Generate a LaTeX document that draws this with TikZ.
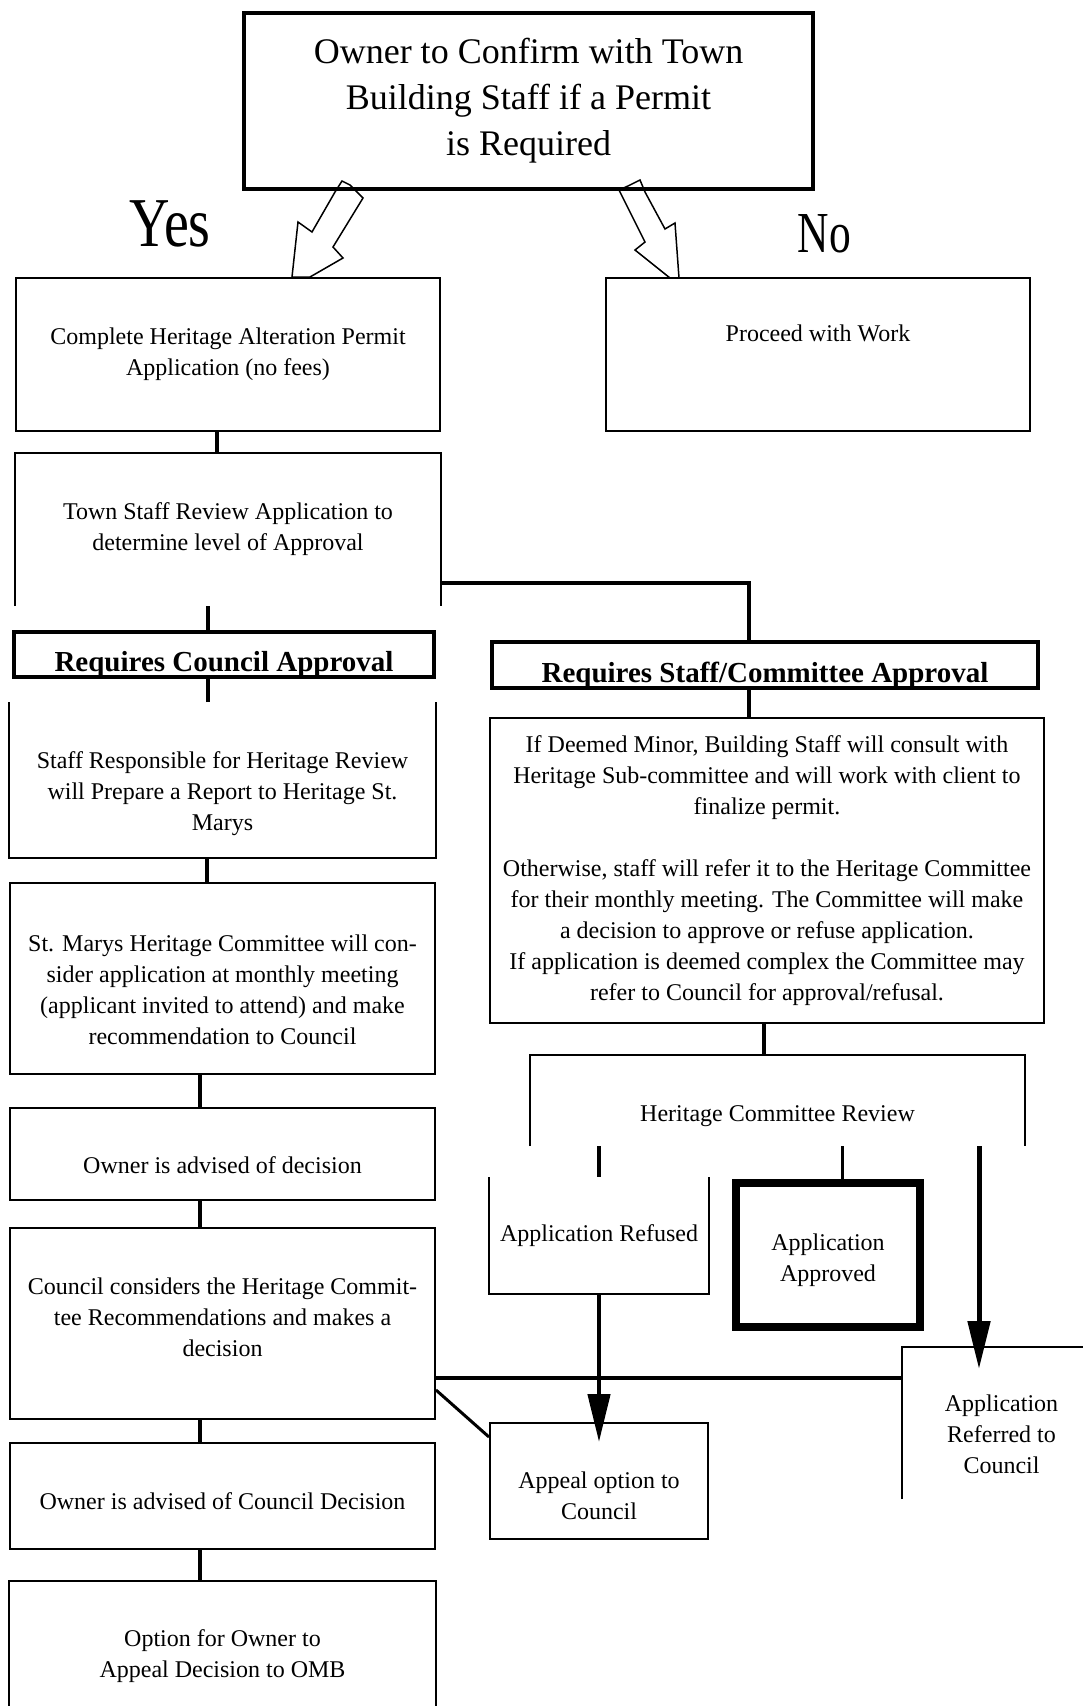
\documentclass[tikz,border=0pt]{standalone}
\usepackage{fontspec}
\setmainfont{Liberation Serif}
\usetikzlibrary{arrows.meta}

\tikzset{
  box/.style={draw, line width=2pt, inner sep=0pt, align=center,
    font=\fontsize{24}{31}\selectfont},
  txt/.style={align=center, font=\fontsize{24}{31}\selectfont},
  openbox/.style={box, draw=none},
  header/.style={draw, line width=4pt, inner sep=0pt, text height=38pt, text depth=4pt,
    font=\bfseries\fontsize{29}{32}\selectfont},
  link/.style={line width=4pt},
  bigarrow/.style={line width=4.5pt, -{Triangle[length=48pt,width=22pt]}},
  bolt/.style={line width=1.5pt, line join=miter},
}

\begin{document}
\begin{tikzpicture}[x=1pt, y=-1pt]
  \useasboundingbox (0,0) rectangle (1083,1706);
  \fill[white] (0,0) rectangle (1083,1706);

  % question at the top
  \node[box, line width=4pt, minimum width=569pt, minimum height=176pt,
        font=\fontsize{36}{46}\selectfont] (owner) at (528.5,101)
    {Owner to Confirm with Town\\Building Staff if a Permit\\is Required};

  % yes / no arrows
  \draw[bolt] (342,181) -- (350,185) -- (363,198) -- (333,247) -- (343,258)
    -- (310,277) -- (292,277) -- (298,222) -- (312,232) -- (335,192) -- cycle;
  \draw[bolt] (640,180) -- (645,192) -- (665,229) -- (675,223) -- (679,278)
    -- (670,278) -- (635,250) -- (645,242) -- (619,190) -- (628,186) -- cycle;
  \node (yes) at (170,223.5) {\scalebox{0.8}[1]{\fontsize{70}{70}\selectfont Yes}};
  \node (no) at (824.5,233.5) {\scalebox{0.75}[1]{\fontsize{58}{58}\selectfont No}};

  % left column
  \node[box, minimum width=424pt, minimum height=153pt] (complete) at (228,354.5)
    {Complete Heritage Alteration Permit\\Application (no fees)};
  \node[box, minimum width=424pt, minimum height=153pt, text depth=43pt] (proceed) at (818,354.5)
    {Proceed with Work};
  \node[openbox, minimum width=424pt, minimum height=151pt] (town) at (228,529.5)
    {Town Staff Review Application to\\determine level of Approval};
  \draw[line width=2pt] (town.south west) -- (town.north west) -- (town.north east) -- (town.south east);
  \node[header, minimum width=420pt, minimum height=45pt] (needcouncil) at (224,654.5)
    {Requires Council Approval};
  \node[openbox, minimum width=425pt, minimum height=154pt,
        label={[txt, yshift=-14pt]center:{Staff Responsible for Heritage Review\\will Prepare a Report to Heritage St.\\Marys}}]
    (respons) at (222.5,780) {};
  \draw[line width=2pt] (respons.north west) -- (respons.south west) -- (respons.south east) -- (respons.north east);
  \node[box, minimum width=425pt, minimum height=191pt,
        label={[txt, yshift=-11pt]center:{St. Marys Heritage Committee will con-\\sider application at monthly meeting\\(applicant invited to attend) and make\\recommendation to Council}}]
    (stmarys) at (222.5,978.5) {};
  \node[box, minimum width=425pt, minimum height=92pt,
        label={[txt, yshift=-11pt]center:Owner is advised of decision}]
    (advised) at (222.5,1154) {};
  \node[box, minimum width=425pt, minimum height=191pt,
        label={[txt, yshift=6pt]center:{Council considers the Heritage Commit-\\tee Recommendations and makes a\\decision}}]
    (considers) at (222.5,1323.5) {};
  \node[box, minimum width=425pt, minimum height=106pt,
        label={[txt, yshift=-5pt]center:Owner is advised of Council Decision}]
    (advisedc) at (222.5,1496) {};
  \node[openbox, minimum width=425pt, minimum height=148pt] (omb) at (222.5,1656)
    {Option for Owner to\\Appeal Decision to OMB};
  \draw[line width=2pt] (omb.south west) -- (omb.north west) -- (omb.north east) -- (omb.south east);

  % right column
  \node[header, minimum width=546pt, minimum height=46pt] (needstaff) at (765,665)
    {Requires Staff/Committee Approval};
  \node[box, minimum width=554pt, minimum height=305pt] (minor) at (767,870.5)
    {If Deemed Minor, Building Staff will consult with\\Heritage Sub-committee and will work with client to\\finalize permit.\\[31pt]Otherwise, staff will refer it to the Heritage Committee\\for their monthly meeting.  The Committee will make\\a decision to approve or refuse application.\\If application is deemed complex the Committee may\\refer to Council for approval/refusal.};
  \node[openbox, minimum width=493pt, minimum height=89pt,
        label={[txt, yshift=-16pt]center:Heritage Committee Review}]
    (review) at (777.5,1100.5) {};
  \draw[line width=2pt] (review.south west) -- (review.north west) -- (review.north east) -- (review.south east);
  \node[openbox, minimum width=218pt, minimum height=115pt] (refused) at (599,1235.5)
    {Application Refused};
  \draw[line width=2pt] (refused.north west) -- (refused.south west) -- (refused.south east) -- (refused.north east);
  \node[box, line width=8pt, minimum width=184pt, minimum height=144pt,
        label={[txt, yshift=-5pt]center:{Application\\Approved}}]
    (approved) at (828,1255) {};
  \node[openbox, minimum width=197pt, minimum height=150pt,
        label={[txt, yshift=-11pt]center:{Application\\Referred to\\Council}}]
    (referred) at (1001.5,1423) {};
  \draw[line width=2pt] (referred.south west) -- (referred.north west) -- (referred.north east);
  \node[box, minimum width=218pt, minimum height=116pt,
        label={[txt, yshift=-15pt]center:{Appeal option to\\Council}}]
    (appeal) at (599,1481) {};

  % links down the left column
  \draw[link] ([xshift=-11pt]complete.south) -- ([xshift=-11pt]town.north);
  \coordinate (c1) at ([xshift=-16pt]needcouncil.north);
  \draw[link] (c1) -- (c1 |- town.south);
  \coordinate (c2) at ([xshift=-14.5pt]respons.north);
  \draw[link] (c2) -- (c2 |- needcouncil.south);
  \draw[link] ([xshift=-15.5pt]respons.south) -- ([xshift=-15.5pt]stmarys.north);
  \foreach \a/\b in {stmarys/advised, advised/considers, considers/advisedc, advisedc/omb}
    \draw[link] ([xshift=-22.5pt]\a.south) -- ([xshift=-22.5pt]\b.north);

  % links down the right column
  \draw[link] ([yshift=-53.5pt]town.east) -| ([xshift=-16pt]needstaff.north);
  \coordinate (c3) at ([xshift=-16pt]needstaff.south);
  \draw[link] (c3) -- (c3 |- minor.north);
  \coordinate (c4) at ([xshift=-3pt]minor.south);
  \draw[link] (c4) -- (c4 |- review.north);
  \draw[link] (refused.north |- review.south) -- (refused.north);
  \coordinate (c5) at ([xshift=14pt]approved.north);
  \draw[line width=3pt] (c5 |- review.south) -- (c5);
  \coordinate (tip1) at ([xshift=-22.5pt,yshift=-22pt]referred.north);
  \draw[bigarrow, line width=5pt] (tip1 |- review.south) -- (tip1);
  \draw[bigarrow] (refused.south) -- ([yshift=-20pt]appeal.north);

  % back to council
  \coordinate (c6) at ([yshift=-54.5pt]considers.east);
  \draw[link] (c6) -- (c6 -| referred.west);
  \draw[line width=3pt] ([yshift=-66.5pt]considers.east) -- ([yshift=-15pt]appeal.north west);
\end{tikzpicture}
\end{document}
